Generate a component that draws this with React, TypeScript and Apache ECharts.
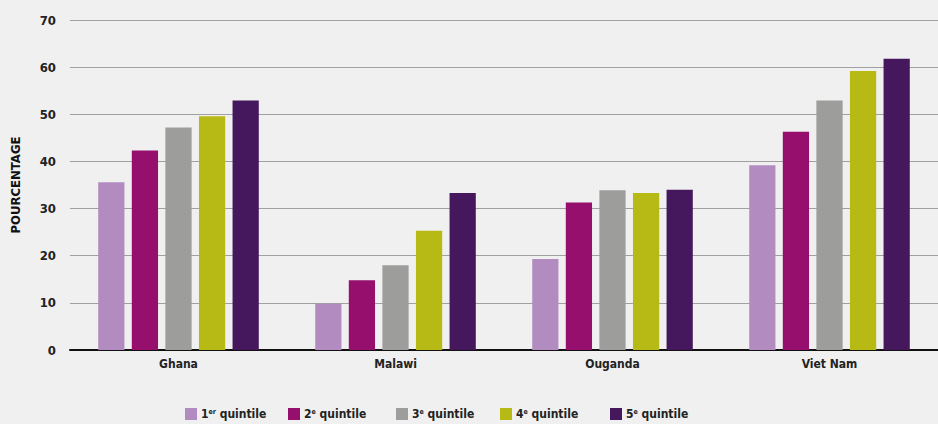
import React, { useEffect, useRef } from "react";
import * as echarts from "echarts";

const categories = ["Ghana", "Malawi", "Ouganda", "Viet Nam"];
const seriesNames = ["1er quintile", "2e quintile", "3e quintile", "4e quintile", "5e quintile"];
const legendRich = ["1{s|er} quintile", "2{s|e} quintile", "3{s|e} quintile", "4{s|e} quintile", "5{s|e} quintile"];
const q1 = [35.6, 9.8, 19.3, 39.2];
const q2 = [42.3, 14.8, 31.3, 46.3];
const q3 = [47.2, 18.0, 33.9, 52.9];
const q4 = [49.6, 25.3, 33.3, 59.2];
const q5 = [52.9, 33.3, 34.0, 61.8];
const values = [q1, q2, q3, q4, q5];
const colors = ["#b28cc0", "#960f6c", "#9d9d9c", "#b7b914", "#45185d"];
const legendLefts = [180, 283, 391, 495, 605];

const FONT = "'DejaVu Sans Condensed', Roboto, sans-serif";

export default function App() {
  const ref = useRef<HTMLDivElement>(null);
  useEffect(() => {
    document.body.style.margin = "0";
    const chart = echarts.init(ref.current!, null, { renderer: "svg" });
    chart.setOption({
      animation: false,
      backgroundColor: "#f0f0f0",
      textStyle: { fontFamily: FONT },
      grid: { left: 70, right: 0, top: 20, bottom: 74 },
      legend: seriesNames.map((n, i) => ({
        left: legendLefts[i],
        top: 403,
        itemWidth: 12,
        itemHeight: 12,
        itemGap: 5,
        icon: "rect",
        data: [n],
        formatter: (name: string) => legendRich[seriesNames.indexOf(name)],
        textStyle: {
          fontFamily: FONT,
          fontSize: 12,
          fontWeight: "bold",
          color: "#222",
          padding: [0, 0, 0, -1],
          rich: {
            s: { fontSize: 7, fontWeight: "bold", verticalAlign: "top", color: "#222", fontFamily: FONT, padding: [0, 0, 5, 0] },
          },
        },
      })),
      xAxis: {
        type: "category",
        data: categories,
        axisLine: { lineStyle: { color: "#111", width: 2 } },
        axisTick: { show: false },
        axisLabel: { color: "#222", fontSize: 12, fontWeight: "bold", fontFamily: FONT, margin: 8 },
      },
      yAxis: {
        type: "value",
        min: 0,
        max: 70,
        interval: 10,
        name: "POURCENTAGE",
        nameLocation: "middle",
        nameGap: 48,
        nameRotate: 90,
        nameTextStyle: { color: "#111", fontSize: 13, fontWeight: "bold", fontFamily: FONT },
        axisLine: { show: false },
        axisTick: { show: false },
        axisLabel: { color: "#222", fontSize: 13, fontWeight: "bold", fontFamily: FONT, margin: 14 },
        splitLine: { lineStyle: { color: "#a0a0a0", width: 1 } },
      },
      series: seriesNames.map((n, i) => ({
        name: n,
        type: "bar",
        data: values[i],
        barGap: "28%",
        barCategoryGap: "26%",
        itemStyle: { color: colors[i] },
      })),
    });
    return () => chart.dispose();
  }, []);
  return <div ref={ref} style={{ width: 938, height: 424 }} />;
}
